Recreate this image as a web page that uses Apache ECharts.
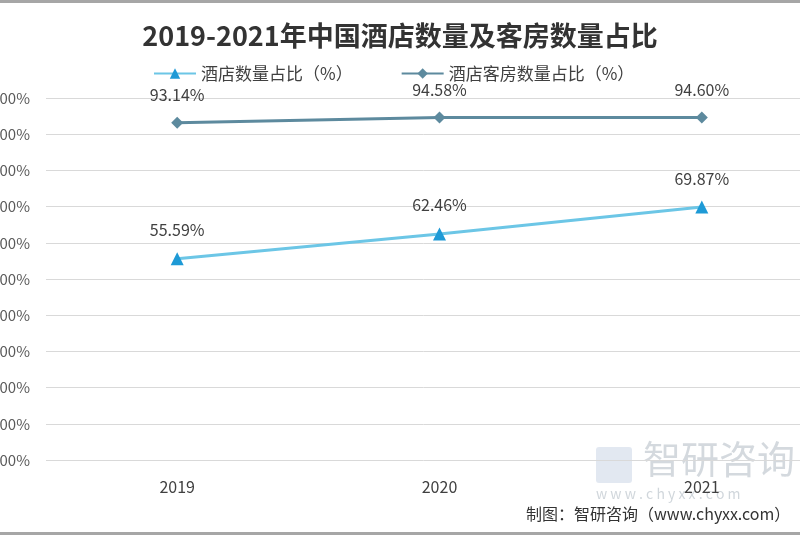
<!DOCTYPE html>
<html><head><meta charset="utf-8">
<script src="https://cdn.jsdelivr.net/npm/echarts@6/dist/echarts.min.js"></script>
<style>html,body{margin:0;padding:0;background:#fff}#c{width:800px;height:535px}</style>
</head><body><div id="c"></div>
<script>
const categories = ['2019', '2020', '2021'];
const hotelShare = [55.59, 62.46, 69.87];
const roomShare = [93.14, 94.58, 94.60];
const seriesNames = ['酒店数量占比（%）', '酒店客房数量占比（%）'];
const yTicks = [0, 10, 20, 30, 40, 50, 60, 70, 80, 90, 100];

const chart = echarts.init(document.getElementById('c'));
const font = '"Microsoft YaHei","Noto Sans CJK SC",sans-serif';
chart.setOption({
  animation: false,
  backgroundColor: '#fff',
  title: {
    text: '2019-2021年中国酒店数量及客房数量占比',
    left: 'center', top: 17,
    textStyle: { fontSize: 27, fontWeight: 'bold', color: '#333', fontFamily: font }
  },
  legend: {
    top: 60, left: 148, itemGap: 48, itemWidth: 42, itemHeight: 13,
    textStyle: { fontSize: 17, color: '#404040', fontFamily: font },
    data: seriesNames
  },
  grid: { left: 46, top: 98, width: 787, height: 362, containLabel: false, outerBoundsMode: 'none' },
  xAxis: {
    type: 'category', data: categories, boundaryGap: true,
    axisLine: { show: false }, axisTick: { show: false },
    axisLabel: { fontSize: 16, color: '#404040', margin: 19, fontFamily: font }
  },
  yAxis: {
    type: 'value', min: yTicks[0], max: yTicks[yTicks.length - 1], interval: 10,
    axisLine: { show: false }, axisTick: { show: false },
    splitLine: { lineStyle: { color: '#d9d9d9', width: 1 } },
    axisLabel: { fontSize: 15, color: '#595959', margin: 16, fontFamily: font,
      formatter: v => v.toFixed(2) + '%' }
  },
  series: [
    {
      name: seriesNames[0], type: 'line', data: hotelShare,
      symbol: 'triangle', symbolSize: 13,
      lineStyle: { color: '#6cc6e6', width: 3 },
      itemStyle: { color: '#1e9ad6' },
      label: { show: true, position: 'top', distance: 14, fontSize: 16, color: '#404040',
        fontFamily: font, formatter: p => p.value.toFixed(2) + '%' }
    },
    {
      name: seriesNames[1], type: 'line', data: roomShare,
      symbol: 'diamond', symbolSize: 12,
      lineStyle: { color: '#5d8a9e', width: 3 },
      itemStyle: { color: '#5d8a9e' },
      label: { show: true, position: 'top', distance: 14, fontSize: 16, color: '#404040',
        fontFamily: font, formatter: p => p.value.toFixed(2) + '%' }
    }
  ],
  graphic: [
    { type: 'rect', left: 0, top: 0, shape: { width: 800, height: 3 }, style: { fill: '#a6a6a6' }, silent: true },
    { type: 'rect', left: 0, top: 532, shape: { width: 800, height: 3 }, style: { fill: '#a6a6a6' }, silent: true },
    { type: 'rect', left: 596, top: 447, shape: { width: 36, height: 36, r: 3 }, style: { fill: 'rgba(190,205,225,0.45)' }, silent: true },
    { type: 'text', left: 643, top: 440, style: { text: '智研咨询', fontSize: 38, fill: 'rgba(170,180,190,0.5)', fontFamily: font }, silent: true },
    { type: 'text', left: 596, top: 487, style: { text: 'w w w . c h y x x . c o m', fontSize: 14, fill: 'rgba(170,180,190,0.55)', fontFamily: font }, silent: true },
    { type: 'text', left: 526, top: 506, style: { text: '制图：智研咨询（www.chyxx.com）', fontSize: 16, fill: '#333', fontFamily: font }, silent: true }
  ]
});
</script></body></html>
